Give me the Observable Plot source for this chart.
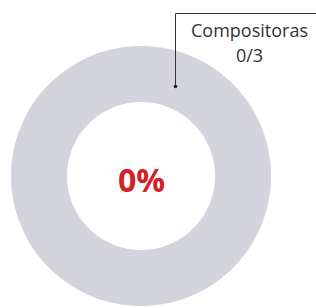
<!DOCTYPE html>
<html>
<head>
<meta charset="utf-8">
<script src="https://cdn.jsdelivr.net/npm/d3@7"></script>
<script src="https://cdn.jsdelivr.net/npm/@observablehq/plot@0.6"></script>
<style>
  html, body { margin: 0; padding: 0; background: #fff; }
  #chart { width: 316px; height: 308px; overflow: hidden; }
</style>
</head>
<body>
<div id="chart"></div>
<script>
// ---- data ----
const categories = ["Compositoras"];
const completed = [0];
const totals = [3];
const sliceKeys = ["Completado", "Pendiente"];
const sliceColors = ["#d42027", "#d3d4dc"];

// ---- layout ----
const W = 316, H = 308;
const cx = 141, cy = 176;     // ring centre (px)
const R = 130, r0 = 74;       // outer / inner radius (px)

const slices = [
  {key: sliceKeys[0], value: completed[0]},
  {key: sliceKeys[1], value: totals[0] - completed[0]}
];
const arcs = d3.pie().sort(null).value(d => d.value)(slices);
const ring = [];
for (const a of arcs) {
  if (a.endAngle <= a.startAngle) continue;
  const n = Math.max(2, Math.ceil((a.endAngle - a.startAngle) / (Math.PI / 180)));
  for (let i = 0; i <= n; i++) {
    const t = a.startAngle + (a.endAngle - a.startAngle) * i / n;
    ring.push({
      key: a.data.key,
      x1: R * Math.sin(t), y1: -R * Math.cos(t),
      x2: r0 * Math.sin(t), y2: -r0 * Math.cos(t)
    });
  }
}

const pct = Math.round(100 * completed[0] / totals[0]) + "%";
const labelLines = [categories[0], `${completed[0]}/${totals[0]}`];

// leader geometry (px → centred coords)
const dotX = 175 - cx, dotY = 86 - cy;
const topY = 13 - cy;
const leader = [
  {x: dotX, y: dotY},
  {x: dotX, y: topY},
  {x: W - cx, y: topY}
];

const chart = Plot.plot({
  width: W,
  height: H,
  margin: 0,
  x: {domain: [-cx, W - cx], range: [0, W], axis: null},
  y: {domain: [-cy, H - cy], range: [0, H], axis: null},
  color: {domain: sliceKeys, range: sliceColors},
  style: {fontFamily: "'Open Sans', sans-serif", background: "#fff"},
  marks: [
    Plot.area(ring, {x1: "x1", y1: "y1", x2: "x2", y2: "y2", fill: "key", z: "key"}),
    Plot.text([pct], {
      x: 0, y: 181 - cy, text: d => d,
      fontSize: 32, fontWeight: "bold", fill: "#d42027", lineAnchor: "middle"
    }),
    Plot.line(leader, {x: "x", y: "y", stroke: "#333", strokeWidth: 1}),
    Plot.dot([leader[0]], {x: "x", y: "y", r: 1.8, fill: "#222", stroke: null}),
    Plot.text(labelLines, {
      x: 249 - cx,
      y: (d, i) => (i === 0 ? 31 : 56) - cy,
      text: d => d,
      fontSize: 18, fill: "#333", lineAnchor: "middle", textAnchor: "middle"
    })
  ]
});
document.getElementById("chart").appendChild(chart);
</script>
</body>
</html>
